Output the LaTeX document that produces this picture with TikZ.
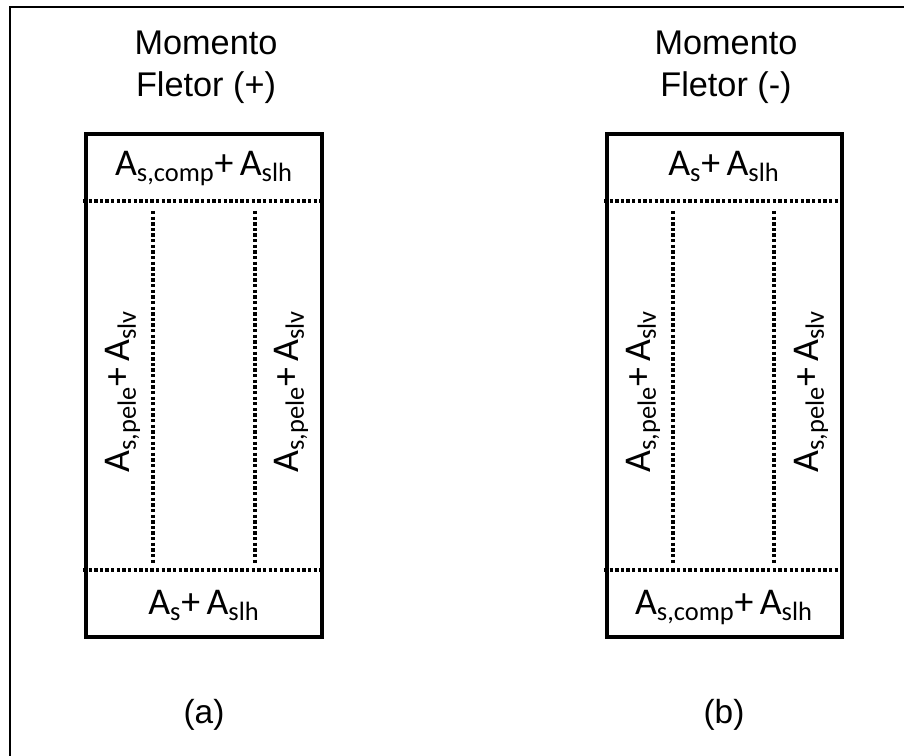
\documentclass[tikz,border=0pt]{standalone}
\usepackage{fontspec}
\setmainfont{Carlito}
\newfontfamily\titlefont{Liberation Sans}
\usetikzlibrary{positioning}
\newcommand{\Aarea}[1]{A\textsubscript{#1}}

\begin{document}
\begin{tikzpicture}[x=0.02cm, y=-0.02cm,
  frame/.style={line width=1.2pt},
  section/.style={line width=2.2pt},
  rebar/.style={line width=2pt, dash pattern=on 1.9pt off 1.3pt},
  title/.style={font=\titlefont\fontsize{19.5}{22}\selectfont, anchor=base, inner sep=0pt},
  area/.style={font=\fontsize{21.5}{24}\selectfont, inner sep=0pt},
  tag/.style={font=\titlefont\fontsize{19}{22}\selectfont, anchor=base, inner sep=0pt}]
  \useasboundingbox (0,0) rectangle (904,756);
  \clip (0,0) rectangle (904,756);
  \draw[frame] (10,7) rectangle (920,770);

  % (a) momento fletor positivo
  \coordinate (a-nw) at (86,134);
  \coordinate (a-se) at (322,637);
  \draw[section] (a-nw) rectangle (a-se);
  \draw[rebar] (83,201) -- (324,201);
  \draw[rebar] (83,570) -- (324,570);
  \draw[rebar] (153,211) -- (153,563);
  \draw[rebar] (255,211) -- (255,563);
  \node[title] (a-t1) at (206,55) {Momento};
  \node[title] (a-t2) at (206,97) {Fletor (+)};
  \node[area, anchor=base] (a-top) at (204,176) {\Aarea{s,comp}+\,\Aarea{slh}};
  \node[area, anchor=base] (a-bot) at (204,615) {\Aarea{s}+\,\Aarea{slh}};
  \node[area, rotate=90, anchor=base west] (a-left) at (130,473) {\Aarea{s,pele}+\,\Aarea{slv}};
  \node[area, rotate=90, anchor=base west] (a-right) at (298,473) {\Aarea{s,pele}+\,\Aarea{slv}};
  \node[tag] (a-tag) at (204,724) {(a)};

  % (b) momento fletor negativo
  \coordinate (b-nw) at (607,134);
  \coordinate (b-se) at (842,637);
  \draw[section] (b-nw) rectangle (b-se);
  \draw[rebar] (604,201) -- (844,201);
  \draw[rebar] (604,570) -- (844,570);
  \draw[rebar] (673,211) -- (673,563);
  \draw[rebar] (774,211) -- (774,563);
  \node[title] (b-t1) at (726,55) {Momento};
  \node[title] (b-t2) at (726,97) {Fletor (-)};
  \node[area, anchor=base] (b-top) at (724,176) {\Aarea{s}+\,\Aarea{slh}};
  \node[area, anchor=base] (b-bot) at (724,615) {\Aarea{s,comp}+\,\Aarea{slh}};
  \node[area, rotate=90, anchor=base west] (b-left) at (650,473) {\Aarea{s,pele}+\,\Aarea{slv}};
  \node[area, rotate=90, anchor=base west] (b-right) at (818,473) {\Aarea{s,pele}+\,\Aarea{slv}};
  \node[tag] (b-tag) at (724,724) {(b)};
\end{tikzpicture}
\end{document}
